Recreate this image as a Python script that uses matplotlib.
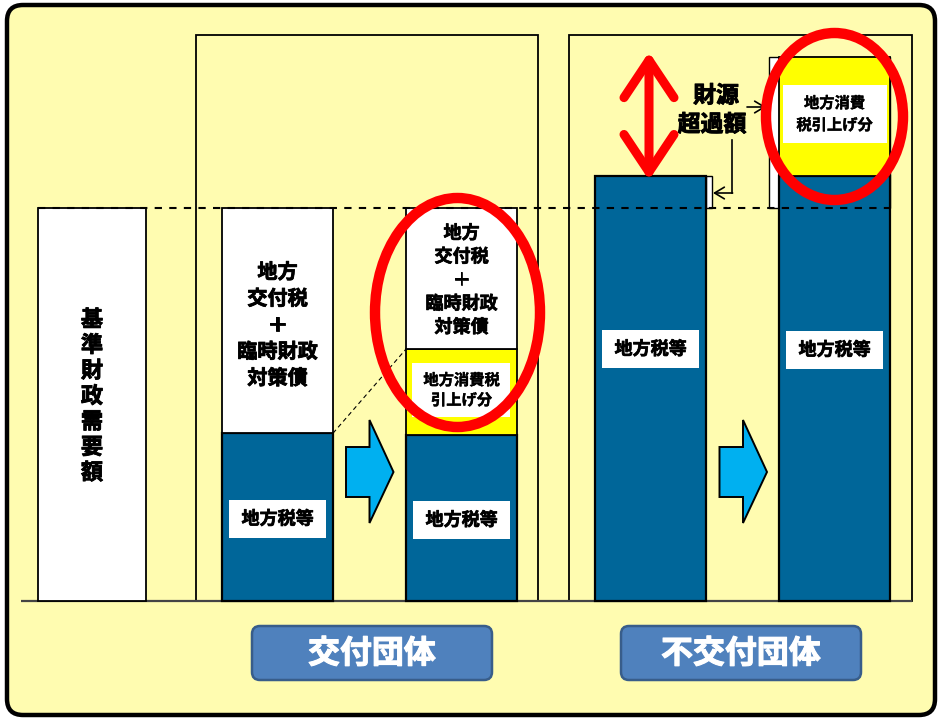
import matplotlib
matplotlib.use("Agg")
import matplotlib.pyplot as plt
import matplotlib.patheffects as pe
from matplotlib.patches import Rectangle, Ellipse, FancyBboxPatch, Polygon

plt.rcParams['font.family'] = ['Noto Sans CJK JP', 'DejaVu Sans']

# ---- data -------------------------------------------------------------
demand = 100.0                       # 基準財政需要額
bar_x = [277.5, 461.5, 650.5, 834.5]  # 交付(前), 交付(後), 不交付(前), 不交付(後)
local_tax = [42.7, 42.2, 108.1, 108.1]          # 地方税等
consumption_up = [0.0, 21.9, 0.0, 30.3]         # 地方消費税引上げ分
grant = [57.3, 35.9, 0.0, 0.0]                  # 地方交付税＋臨時財政対策債
tax_label_y = [20.9, 20.6, 64.1, 63.9]
group_names = ['交付団体', '不交付団体']
demand_label = '基準財政需要額'
grant_lines = ['地方', '交付税', '＋', '臨時財政', '対策債']

# ---- colours ----------------------------------------------------------
BG = '#FFFCB0'
BLUE = '#006699'
YELLOW = '#FFFF00'
CYAN = '#00B0F0'
RED = '#FF0000'
LABEL = '#4F81BD'


def heavy(w, color='black'):
    return [pe.withStroke(linewidth=w, foreground=color)]


# pixel scale of one value unit and baseline position
S = 3.93
BASE = 601
W, H = 942, 721


def Y(py):
    return (BASE - py) / S


fig = plt.figure(figsize=(W / 100, H / 100), dpi=100)
fig.patch.set_facecolor('white')

# background layer in pixel coordinates
bg = fig.add_axes([0, 0, 1, 1])
bg.set_xlim(0, W)
bg.set_ylim(H, 0)
bg.axis('off')
bg.set_zorder(0)
bg.add_patch(FancyBboxPatch((7, 5), 928, 710,
                            boxstyle='round,pad=0,rounding_size=16',
                            facecolor=BG, edgecolor='black', lw=3.2))

# group labels
for (x0, name) in zip([252, 621], group_names):
    bg.add_patch(FancyBboxPatch((x0, 626), 240, 54,
                                boxstyle='round,pad=0,rounding_size=8',
                                facecolor=LABEL, edgecolor='#385D8A', lw=1.8))
    bg.text(x0 + 120, 654, name, ha='center', va='center', color='white',
            fontsize=23, fontweight='bold', path_effects=heavy(0.8, 'white'))

# chart layer: x in pixels, y in value units
ax = fig.add_axes([0, 0, 1, 1])
ax.set_zorder(1)
ax.patch.set_visible(False)
ax.set_xlim(0, W)
ax.set_ylim(Y(H), Y(0))
ax.axis('off')

# group frames
ax.add_patch(Rectangle((196, 0), 342, Y(35), fill=False, edgecolor='black', lw=1.3, zorder=1))
ax.add_patch(Rectangle((569, 0), 343, Y(35), fill=False, edgecolor='black', lw=1.3, zorder=1))

# baseline
ax.hlines(0, 21, 912, color='#444444', lw=1.6, zorder=2)

# standard demand bar
ax.bar([92], [demand], width=108, color='white', edgecolor='black', lw=1.3, zorder=3)

bw = 111
# frame around the increase in the non-grant group
ax.add_patch(Rectangle((bar_x[3] - bw / 2 - 10, demand), bw + 10,
                       local_tax[3] + consumption_up[3] - demand,
                       facecolor='white', edgecolor='black', lw=1.0, zorder=2))
# excess bracket next to the pre-increase non-grant bar
ax.add_patch(Rectangle((bar_x[2] + bw / 2, demand), 6, local_tax[2] - demand,
                       facecolor='white', edgecolor='black', lw=1.0, zorder=2))

ax.bar(bar_x, local_tax, width=bw, color=BLUE, edgecolor='black', lw=1.6, zorder=3)
cu_x = [x for x, v in zip(bar_x, consumption_up) if v > 0]
cu_b = [b for b, v in zip(local_tax, consumption_up) if v > 0]
cu_v = [v for v in consumption_up if v > 0]
ax.bar(cu_x, cu_v, bottom=cu_b, width=bw, color=YELLOW, edgecolor='black', lw=1.3, zorder=3)
gr_x = [x for x, v in zip(bar_x, grant) if v > 0]
gr_b = [a + c for a, c, v in zip(local_tax, consumption_up, grant) if v > 0]
gr_v = [v for v in grant if v > 0]
ax.bar(gr_x, gr_v, bottom=gr_b, width=bw, color='white', edgecolor='black', lw=1.3, zorder=3)

# demand level dashed line
ax.hlines(demand, 38, 890, color='black', lw=1.5, linestyles=(0, (3.5, 3.5)), zorder=4)

# thin dashed connector
ax.plot([bar_x[0] + bw / 2, bar_x[1] - bw / 2],
        [local_tax[0], local_tax[1] + consumption_up[1]],
        color='black', lw=0.8, ls=(0, (4, 3)), zorder=4)

# 地方税等 label boxes
for x, yv in zip(bar_x, tax_label_y):
    ax.add_patch(Rectangle((x - 48.5, yv - 19 / S), 97, 38 / S,
                           facecolor='white', edgecolor='none', zorder=5))
    ax.text(x, yv, '地方税等', ha='center', va='center', fontsize=13,
            fontweight='bold', zorder=6, path_effects=heavy(0.5))


def stacked_lines(x, yc, lines, size, step_px, stroke):
    n = len(lines)
    for i, t in enumerate(lines):
        off = (i - (n - 1) / 2) * step_px
        ax.text(x, yc - off / S, t, ha='center', va='center', fontsize=size,
                fontweight='bold', zorder=6, path_effects=heavy(stroke))


# vertical label on the demand bar
stacked_lines(92, Y(396.5), list(demand_label), 16, 25.5, 0.6)

# grant labels
stacked_lines(bar_x[0], local_tax[0] + grant[0] / 2 - 1.1, grant_lines, 14.5, 26.5, 0.6)
stacked_lines(bar_x[1], local_tax[1] + consumption_up[1] + grant[1] / 2 - 0.4,
              grant_lines, 13, 23.5, 0.5)

# consumption tax increase labels
ax.add_patch(Rectangle((bar_x[1] - 49.5, Y(417)), 98, 54 / S,
                       facecolor='white', edgecolor='none', zorder=5))
stacked_lines(bar_x[1], Y(390), ['地方消費税', '引上げ分'], 11, 20, 0.3)
ax.add_patch(Rectangle((bar_x[3] - 51.5, Y(143)), 104, 58 / S,
                       facecolor='white', edgecolor='none', zorder=5))
stacked_lines(bar_x[3], Y(114), ['地方消費', '税引上げ分'], 11, 22, 0.3)

# transition arrows
for cx in [369.5, 743]:
    yc = Y(472)
    pts = [(cx - 23.5, yc + 25 / S), (cx, yc + 25 / S), (cx, yc + 52 / S),
           (cx + 24, yc), (cx, yc - 51 / S), (cx, yc - 25 / S),
           (cx - 23.5, yc - 25 / S)]
    ax.add_patch(Polygon(pts, closed=True, facecolor=CYAN, edgecolor='black',
                         lw=1.4, zorder=4))

# red double arrow for the revenue excess
ax.annotate('', xy=(649, Y(52)), xytext=(649, local_tax[2] - 1),
            arrowprops=dict(arrowstyle='<->,head_length=1.35,head_width=0.9',
                            mutation_scale=20, lw=6.5, color=RED,
                            capstyle='round', joinstyle='round',
                            shrinkA=0, shrinkB=0),
            zorder=7)

# 財源超過額 text and pointers
ax.text(716, Y(96), '財源', ha='center', va='center', fontsize=16.5,
        fontweight='bold', zorder=6, path_effects=heavy(0.7))
ax.text(712, Y(125), '超過額', ha='center', va='center', fontsize=16.5,
        fontweight='bold', zorder=6, path_effects=heavy(0.7))
ax.plot([732, 732], [Y(140), Y(193)], color='black', lw=1.2, zorder=6)
ax.annotate('', xy=(713, Y(193)), xytext=(732.6, Y(193)),
            arrowprops=dict(arrowstyle='->,head_length=0.5,head_width=0.3',
                            mutation_scale=14, lw=1.2, color='black',
                            shrinkA=0, shrinkB=0), zorder=6)
ax.annotate('', xy=(766, Y(107)), xytext=(747, Y(107)),
            arrowprops=dict(arrowstyle='->,head_length=0.5,head_width=0.3',
                            mutation_scale=14, lw=1.2, color='black',
                            shrinkA=0, shrinkB=0), zorder=6)

# highlight ellipses
ax.add_patch(Ellipse((457.5, Y(312.5)), 165, 229 / S, fill=False,
                     edgecolor=RED, lw=7.5, zorder=8))
ax.add_patch(Ellipse((834.5, Y(116.5)), 137, 167 / S, fill=False,
                     edgecolor=RED, lw=7.5, zorder=8))

fig.savefig('out.png', dpi=100, facecolor='white')
